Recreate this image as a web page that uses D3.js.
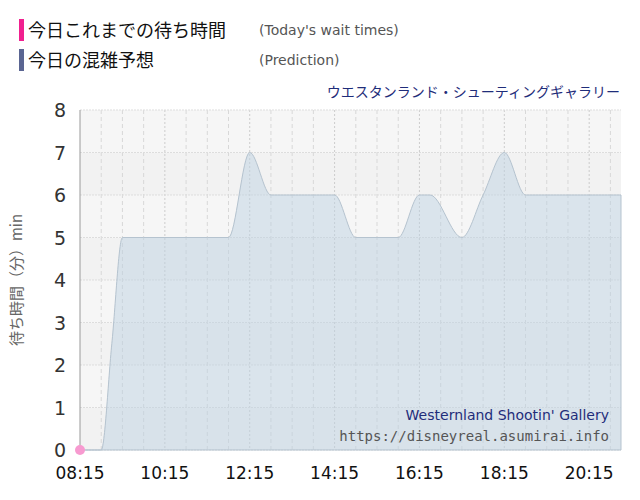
<!DOCTYPE html><html><head><meta charset="utf-8"><script src="https://cdn.jsdelivr.net/npm/d3@7"></script>
<style>body{margin:0;background:#fff}</style></head><body><svg id="c" width="640" height="500"></svg><script>
const predTimes=["08:15","08:45","09:00","09:15","09:45","10:15","10:45","11:15","11:45","12:15","12:45","13:15","13:45","14:15","14:45","15:15","15:45","16:15","16:30","17:15","17:45","18:15","18:45","19:15","19:45","20:15","20:45","21:00"];
const predValues=[0,0,2.5,5,5,5,5,5,5,7,6,6,6,6,5,5,5,6,6,5,6,7,6,6,6,6,6,6];
const todayTimes=["08:15"];
const todayValues=[0];
const xTicks=["08:15","10:15","12:15","14:15","16:15","18:15","20:15"];
const yTicks=[0,1,2,3,4,5,6,7,8];
const P=d3.timeParse("%H:%M");
const svg=d3.select("#c");
const x=d3.scaleTime().domain([P("08:15"),P("21:00")]).range([80,621]);
const y=d3.scaleLinear().domain([0,8]).range([450,110]);
const g=svg.append("g");
for(let i=0;i<8;i++){g.append("rect").attr("x",80).attr("width",541).attr("y",y(i+1)).attr("height",y(i)-y(i+1)).attr("fill",i%2?"#f6f6f6":"#f2f2f2");}
for(let t=+P("08:45");t<=+P("21:00");t+=30*60000){const X=x(new Date(t));const major=((t-P("08:15"))/60000)%120===0;
g.append("line").attr("x1",X).attr("x2",X).attr("y1",110).attr("y2",450).attr("stroke",major?"#ccc":"#d8d8d8").attr("stroke-dasharray",major?"2,2":"4,3");}
yTicks.forEach(v=>g.append("line").attr("x1",80).attr("x2",621).attr("y1",y(v)).attr("y2",y(v)).attr("stroke","#ddd").attr("stroke-dasharray","2,1"));
const pd=predTimes.map((t,i)=>[P(t),predValues[i]]);
g.append("path").datum(pd).attr("d",d3.area().x(d=>x(d[0])).y0(y(0)).y1(d=>y(d[1])).curve(d3.curveMonotoneX)).attr("fill","rgba(190,210,225,0.5)").attr("stroke","#b5c3cf").attr("stroke-width",1);
g.append("line").attr("x1",80).attr("x2",80).attr("y1",110).attr("y2",450).attr("stroke","#999");
todayTimes.forEach((t,i)=>g.append("circle").attr("cx",x(P(t))).attr("cy",y(todayValues[i])).attr("r",5).attr("fill","#f79ad0"));
yTicks.forEach(v=>svg.append("text").attr("x",66).attr("y",y(v)+7).attr("text-anchor","end").attr("font-family","DejaVu Sans").attr("font-size",19).attr("fill","#333").text(v));
xTicks.forEach(t=>svg.append("text").attr("x",x(P(t))).attr("y",479).attr("text-anchor","middle").attr("font-family","DejaVu Sans").attr("font-size",17).attr("fill","#111").text(t));
svg.append("text").attr("transform","translate(22,280) rotate(-90)").attr("text-anchor","middle").attr("font-family","Noto Sans CJK JP").attr("font-size",15).attr("fill","#666").text("待ち時間（分）min");
svg.append("text").attr("x",620).attr("y",97).attr("text-anchor","end").attr("font-family","Noto Sans CJK JP").attr("font-size",14).attr("fill","#1f2d7a").text("ウエスタンランド・シューティングギャラリー");
svg.append("text").attr("x",609).attr("y",420).attr("text-anchor","end").attr("font-family","DejaVu Sans").attr("font-size",14).attr("fill","#1f2d7a").text("Westernland Shootin' Gallery");
svg.append("text").attr("x",609).attr("y",441).attr("text-anchor","end").attr("font-family","DejaVu Sans Mono").attr("font-size",14).attr("fill","#555").text("https://disneyreal.asumirai.info");
const leg=[["#f0208f","今日これまでの待ち時間","(Today's wait times)",30],["#5a6592","今日の混雑予想","(Prediction)",60]];
leg.forEach(l=>{svg.append("rect").attr("x",19).attr("y",l[3]-11).attr("width",5).attr("height",22).attr("fill",l[0]);
svg.append("text").attr("x",28).attr("y",l[3]+7).attr("font-family","Noto Sans CJK JP").attr("font-size",18).attr("fill","#111").text(l[1]);
svg.append("text").attr("x",259).attr("y",l[3]+5).attr("font-family","DejaVu Sans").attr("font-size",14).attr("fill","#555").text(l[2]);});
</script></body></html>
